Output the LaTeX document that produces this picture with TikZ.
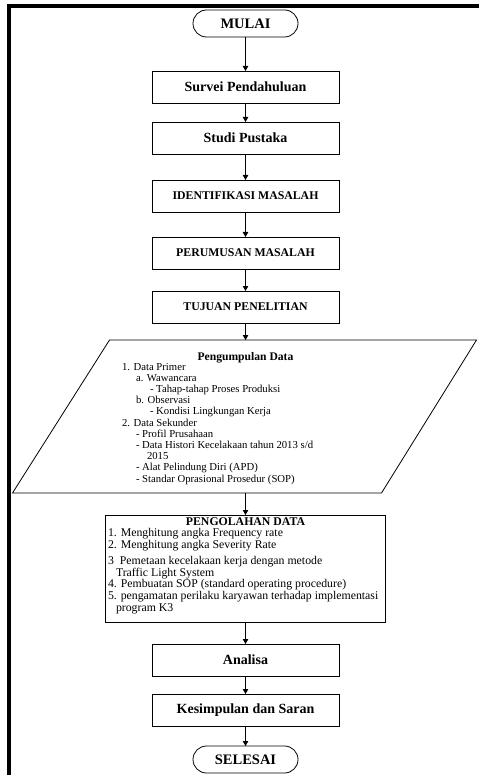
\documentclass[tikz,border=0pt]{standalone}
\usepackage{fontspec}
\setmainfont{Liberation Serif}
\usepackage{tikz}
\usetikzlibrary{positioning,arrows.meta}

\begin{document}
\begin{tikzpicture}[x=1pt,y=1pt,line width=0.8pt,every node/.append style={outer sep=0pt}]
    % `proses' is used for the plain step boxes.
    % `batas' is used for the start and end (MULAI, SELESAI).
    % `arus' is used for the arrows between steps.
    \tikzstyle{proses} = [draw,minimum width=187pt,minimum height=32pt,inner sep=0pt,
      font=\fontsize{14}{14}\selectfont\bfseries]
    \tikzstyle{kapital} = [proses,font=\fontsize{11.8}{12}\selectfont\bfseries]
    \tikzstyle{batas} = [draw,rounded corners=13.5pt,minimum width=105pt,minimum height=27pt,
      inner sep=0pt,font=\fontsize{14.5}{14.5}\selectfont\bfseries]
    \tikzstyle{arus} = [-{Triangle[width=5.5pt,length=5pt]}]
    \tikzstyle{isi} = [inner sep=0pt,align=left]
    %
    \useasboundingbox (0,0) rectangle (479,-775);
    % Draw frame.
    \draw[line width=4pt] (9,-775) -- (9,-6) -- (479,-6);

    \node[batas] (mulai) at (245.5,-23.5) {MULAI};
    \node[proses,below=34pt of mulai] (survei) {Survei Pendahuluan};
    \node[proses,below=19pt of survei] (studi) {Studi Pustaka};
    \node[kapital,below=26pt of studi] (identifikasi) {IDENTIFIKASI MASALAH};
    \node[kapital,below=25pt of identifikasi] (rumusan) {PERUMUSAN MASALAH};
    \node[kapital,below=22pt of rumusan] (tujuan) {TUJUAN PENELITIAN};
    \node[minimum width=272pt,minimum height=153pt,inner sep=0pt,below=17pt of tujuan] (kumpul) {};
    \node[draw,minimum width=280pt,minimum height=107pt,inner sep=0pt,below=22pt of kumpul] (olah) {};
    \node[proses,below=22pt of olah] (analisa) {Analisa};
    \node[proses,below=18pt of analisa] (simpulan) {Kesimpulan dan Saran};
    \node[batas,below=20pt of simpulan] (selesai) {SELESAI};

    % Draw the data box (parallelogram) round `kumpul'.
    \draw (kumpul.north west) -- ([xshift=95pt]kumpul.north east)
          -- (kumpul.south east) -- ([xshift=-97pt]kumpul.south west) -- cycle;
    \node[inner sep=0pt,anchor=north,font=\fontsize{11.6}{12}\selectfont\bfseries]
      (kumpulJudul) at ([yshift=-12pt]kumpul.north) {Pengumpulan Data};
    \node[isi,anchor=north west,font=\fontsize{10.7}{11.2}\selectfont]
      (kumpulIsi) at ([xshift=12.5pt,yshift=-23pt]kumpul.north west) {%
      1. Data Primer\\
      \hspace*{14pt}a. Wawancara\\
      \hspace*{28pt}- Tahap-tahap Proses Produksi\\
      \hspace*{14pt}b. Observasi\\
      \hspace*{28pt}- Kondisi Lingkungan Kerja\\
      2. Data Sekunder\\
      \hspace*{14pt}- Profil Prusahaan\\
      \hspace*{14pt}- Data Histori Kecelakaan tahun 2013 s/d\\
      \hspace*{25pt}2015\\
      \hspace*{14pt}- Alat Pelindung Diri (APD)\\
      \hspace*{14pt}- Standar Oprasional Prosedur (SOP)};

    % Text of the processing box.
    \node[inner sep=0pt,anchor=north,font=\fontsize{11.8}{12}\selectfont\bfseries]
      (olahJudul) at ([yshift=-2.8pt]olah.north) {PENGOLAHAN DATA};
    \node[isi,anchor=north west,font=\fontsize{11.8}{11.8}\selectfont]
      (olahIsi) at ([xshift=2.5pt,yshift=-13.5pt]olah.north west) {%
      1. Menghitung angka Frequency rate\\
      2. Menghitung angka Severity Rate\\[4pt]
      3\ \ Pemetaan kecelakaan kerja dengan metode\\
      \hspace*{8pt}Traffic Light System\\
      4. Pembuatan SOP (standard operating procedure)\\
      5. pengamatan perilaku karyawan terhadap implementasi\\
      \hspace*{8pt}program K3};

    % Draw arrows.
    \draw[arus] (mulai) -- (survei);
    \draw[arus] (survei) -- (studi);
    \draw[arus] (studi) -- (identifikasi);
    \draw[arus] (identifikasi) -- (rumusan);
    \draw[arus] (rumusan) -- (tujuan);
    \draw[arus] (tujuan) -- (kumpul);
    \draw[arus] (kumpul) -- (olah);
    \draw[arus] (olah) -- (analisa);
    \draw[arus] (analisa) -- (simpulan);
    \draw[arus] (simpulan) -- (selesai);
\end{tikzpicture}
\end{document}
